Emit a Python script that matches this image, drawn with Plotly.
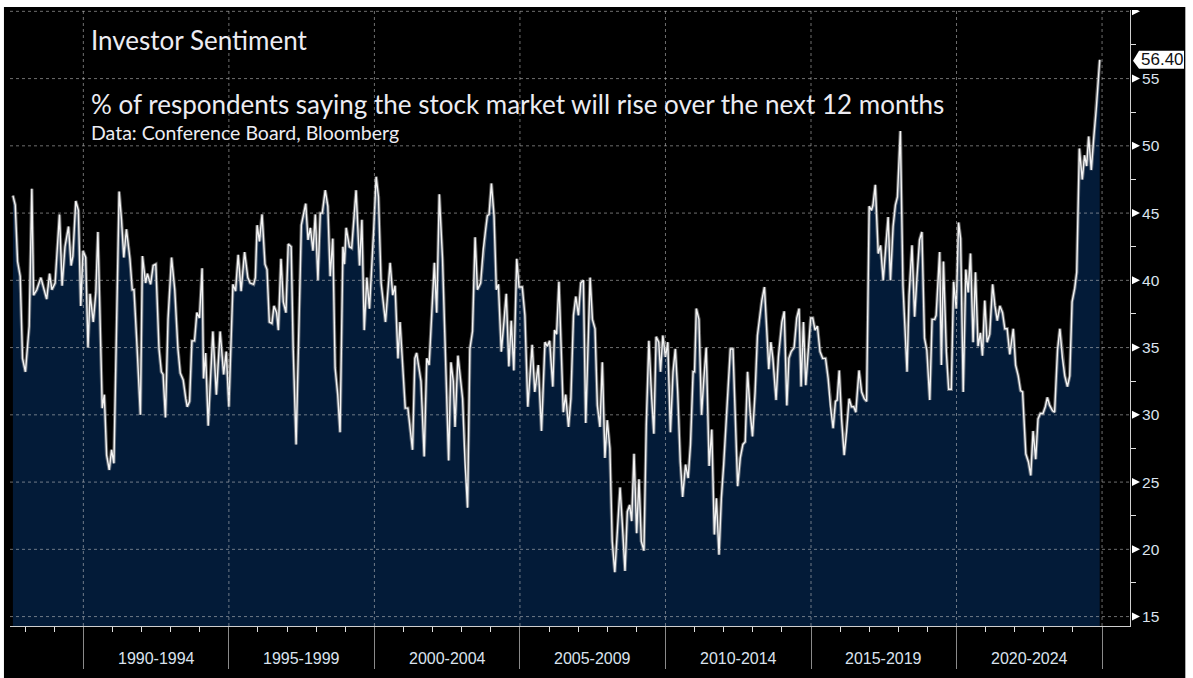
import plotly.graph_objects as go

# ---- data (decimal year, % saying stocks will rise) ----
years = [
 1987.58,1987.66,1987.74,1987.83,1987.91,1988.01,1988.14,1988.23,1988.29,1988.40,1988.54,1988.63,1988.74,1988.84,1988.92,
 1989.03,1989.09,1989.18,1989.27,1989.37,1989.49,1989.58,1989.64,1989.74,1989.83,1989.91,1989.99,
 1990.08,1990.16,1990.23,1990.34,1990.43,1990.50,1990.65,1990.72,1990.80,1990.89,1990.97,
 1991.05,1991.23,1991.31,1991.39,1991.48,1991.60,1991.68,1991.74,1991.83,1991.96,
 1992.03,1992.14,1992.20,1992.31,1992.40,1992.49,1992.60,1992.68,1992.74,1992.82,1992.91,
 1993.03,1993.14,1993.25,1993.33,1993.43,1993.52,1993.57,1993.65,1993.73,1993.82,1993.90,1993.99,
 1994.08,1994.13,1994.20,1994.29,1994.45,1994.57,1994.70,1994.82,1994.91,
 1995.00,1995.14,1995.23,1995.32,1995.42,1995.54,1995.65,1995.73,1995.85,1995.91,1995.97,
 1996.05,1996.14,1996.24,1996.31,1996.39,1996.48,1996.55,1996.64,1996.70,1996.79,1996.87,1996.96,
 1997.04,1997.14,1997.21,1997.31,1997.49,1997.64,1997.72,1997.80,1997.89,1997.97,
 1998.06,1998.14,1998.21,1998.31,1998.40,1998.48,1998.57,1998.65,1998.74,1998.82,1998.92,1998.97,
 1999.03,1999.14,1999.22,1999.37,1999.49,1999.57,1999.65,1999.74,1999.83,1999.97,
 2000.06,2000.14,2000.23,2000.38,2000.54,2000.63,2000.71,2000.81,2000.88,
 2001.06,2001.15,2001.31,2001.39,2001.45,2001.60,2001.71,2001.80,2001.88,
 2002.06,2002.14,2002.23,2002.34,2002.55,2002.63,2002.71,2002.77,2002.87,
 2003.03,2003.11,2003.20,2003.28,2003.37,2003.46,2003.54,2003.65,2003.74,2003.82,2003.88,2003.94,
 2004.02,2004.11,2004.19,2004.26,2004.36,2004.45,2004.53,2004.62,2004.70,2004.79,2004.89,2004.97,
 2005.08,2005.17,2005.27,2005.42,2005.51,2005.63,2005.74,2005.86,2005.94,
 2006.02,2006.13,2006.19,2006.26,2006.34,2006.49,2006.57,2006.67,2006.75,2006.84,2006.92,
 2007.01,2007.09,2007.18,2007.26,2007.41,2007.49,2007.58,2007.66,2007.75,2007.83,2007.92,
 2008.00,2008.09,2008.17,2008.26,2008.34,2008.44,2008.52,2008.61,2008.69,2008.77,2008.84,2008.92,
 2009.01,2009.09,2009.17,2009.26,2009.34,2009.43,2009.52,2009.60,2009.68,2009.77,2009.83,2009.91,
 2010.00,2010.08,2010.17,2010.26,2010.34,2010.42,2010.51,2010.59,2010.69,2010.78,2010.86,2010.95,
 2011.00,2011.06,2011.15,2011.24,2011.31,2011.40,2011.50,2011.59,2011.68,2011.75,2011.84,2011.92,
 2012.00,2012.11,2012.23,2012.32,2012.40,2012.48,2012.57,2012.66,2012.74,2012.82,2012.91,2012.99,
 2013.08,2013.16,2013.31,2013.40,2013.48,2013.55,2013.62,2013.69,2013.80,2013.88,
 2014.00,2014.08,2014.17,2014.24,2014.32,2014.42,2014.51,2014.59,2014.66,2014.74,2014.82,2014.91,2014.99,
 2015.06,2015.14,2015.22,2015.31,2015.40,2015.50,2015.59,2015.67,2015.76,2015.84,2015.90,2015.97,
 2016.05,2016.14,2016.22,2016.31,2016.39,2016.47,2016.54,2016.65,2016.74,2016.83,2016.91,
 2017.00,2017.08,2017.13,2017.21,2017.31,2017.39,2017.48,2017.57,2017.65,2017.73,2017.82,2017.90,2017.97,
 2018.07,2018.16,2018.30,2018.37,2018.47,2018.56,2018.64,2018.73,2018.81,2018.90,2018.98,
 2019.08,2019.16,2019.25,2019.30,2019.42,2019.48,2019.55,2019.65,2019.73,2019.82,2019.90,2019.99,
 2020.07,2020.14,2020.23,2020.32,2020.40,2020.48,2020.57,2020.65,2020.74,2020.82,2020.89,2020.97,
 2021.05,2021.14,2021.24,2021.32,2021.40,2021.49,2021.58,2021.66,2021.74,2021.83,2021.95,
 2022.03,2022.12,2022.20,2022.27,2022.38,2022.47,2022.55,2022.63,2022.72,2022.80,2022.88,2022.97,
 2023.05,2023.12,2023.20,2023.30,2023.37,2023.47,2023.55,2023.64,2023.72,2023.81,2023.89,2023.97,
 2024.06,2024.13,2024.22,2024.32,2024.40,2024.47,2024.54,2024.63,2024.71,2024.80,2024.92,
]
values = [
 46.3,45.6,41.4,40.3,34.2,33.2,36.6,46.8,38.9,39.3,40.2,39.5,38.6,40.5,39.3,
 39.8,41.6,44.9,39.6,42.5,44.0,41.1,41.8,45.9,45.2,38.1,42.2,
 41.7,35.0,39.0,36.9,39.1,43.6,30.5,31.5,27.0,25.9,27.4,
 26.4,46.6,44.5,41.7,43.8,41.6,39.3,39.3,35.7,30.0,
 41.8,39.8,40.5,39.7,41.1,41.2,34.9,33.2,33.0,29.8,37.1,
 41.7,39.3,34.9,33.1,32.6,31.2,30.6,31.0,35.5,35.5,37.6,37.2,
 40.9,32.7,34.6,29.2,36.2,31.5,36.2,33.0,34.7,
 30.6,39.7,39.2,41.9,39.2,42.1,40.2,39.8,39.7,40.2,44.1,
 42.9,44.9,41.2,40.8,36.9,36.8,38.1,37.6,36.3,41.6,38.4,37.6,
 42.7,42.5,34.9,27.8,44.1,45.7,43.0,43.9,42.2,44.9,
 40.0,45.0,45.0,46.7,45.5,40.3,43.1,33.5,31.5,28.7,42.5,41.2,
 43.9,42.5,42.4,46.7,41.1,44.5,36.3,40.2,37.9,43.5,
 47.7,46.2,39.8,36.9,41.3,38.9,39.6,34.2,36.9,
 30.5,30.5,27.4,34.2,34.6,32.5,26.9,34.2,33.7,
 41.3,37.6,46.4,41.6,26.6,33.9,32.5,29.1,34.4,
 31.2,26.6,23.1,34.9,36.2,43.2,39.3,39.8,42.3,43.8,44.8,44.9,
 47.2,44.8,39.3,39.7,34.7,36.9,39.0,33.6,37.0,33.3,41.6,39.5,
 39.5,37.4,30.6,35.2,31.7,33.7,28.8,35.4,35.1,
 35.5,32.1,36.3,36.0,39.9,30.2,31.5,29.1,31.2,37.4,38.8,
 37.4,39.8,40.0,29.4,40.2,37.1,36.4,30.7,29.1,33.9,26.8,
 29.6,27.5,20.6,18.3,21.1,24.6,21.8,18.4,22.8,23.3,22.1,27.1,
 21.2,25.2,20.6,19.9,29.2,35.5,31.5,28.6,35.8,35.4,33.2,35.9,
 34.3,35.4,28.7,33.2,34.9,31.7,26.5,23.9,26.3,25.3,27.8,33.2,
 33.2,37.9,37.1,30.0,32.4,35.0,26.2,28.9,21.1,23.8,19.6,23.8,
 26.3,30.1,34.9,34.9,30.2,24.7,26.8,27.8,28.0,33.2,30.2,28.4,
 31.7,35.9,38.5,39.5,36.3,33.4,35.4,34.2,31.1,34.3,
 36.9,37.7,30.7,34.2,34.7,35.0,37.2,37.9,32.1,36.9,32.2,34.7,37.2,
 37.2,36.3,36.6,34.7,34.2,34.2,32.7,30.6,29.0,31.0,31.1,33.3,
 29.7,27.0,28.7,31.2,30.6,30.6,30.2,33.3,31.7,31.2,31.0,
 45.5,45.2,45.6,47.1,42.0,42.6,40.0,42.5,44.7,40.0,44.0,45.6,46.2,
 51.1,39.6,33.2,38.9,42.6,37.3,40.2,43.0,43.6,35.7,34.8,
 31.1,37.1,37.1,37.4,42.1,33.7,41.4,34.7,31.9,31.9,39.9,37.9,
 44.3,43.1,31.7,40.8,39.1,42.0,35.4,40.6,35.1,36.1,34.4,38.5,
 35.4,36.0,39.7,38.1,37.0,38.1,37.6,36.4,36.4,34.5,36.4,
 33.7,32.9,31.8,31.7,27.1,26.5,25.5,28.8,26.7,29.7,30.1,30.1,
 30.6,31.3,30.7,30.3,30.2,34.8,36.4,34.2,32.9,32.1,32.9,38.4,
 39.4,40.6,49.8,47.5,49.3,48.5,50.7,48.2,50.5,52.7,56.4,
]

period_starts = [1990, 1995, 2000, 2005, 2010, 2015, 2020]
period_labels = ["1990-1994", "1995-1999", "2000-2004", "2005-2009",
                 "2010-2014", "2015-2019", "2020-2024"]
y_ticks = [15, 20, 25, 30, 35, 40, 45, 50, 55]
y_grid = [15, 20, 25, 30, 35, 40, 45, 50, 55, 60]
x_grid = [1990, 1995, 2000, 2005, 2010, 2015, 2020, 2025]
last_value = values[-1]

X_RANGE = [1987.48, 2025.96]
Y_RANGE = [14.3, 60.1]

TXT = "#ececf2"
TICK_TXT = "#dbe3ee"
GRID = "rgba(200,200,200,0.55)"
FILL = "#031b38"

fig = go.Figure()
fig.add_trace(go.Scatter(x=years, y=values, mode="lines", fill="tozeroy",
                         fillcolor=FILL, line=dict(color="rgba(0,0,0,0)", width=0),
                         hoverinfo="skip", showlegend=False))
fig.add_trace(go.Scatter(x=years, y=values, mode="lines",
                         line=dict(color="rgba(160,160,160,0.6)", width=3.4),
                         hoverinfo="skip", showlegend=False))
fig.add_trace(go.Scatter(x=years, y=values, mode="lines",
                         line=dict(color="#f4f4f4", width=1.4),
                         showlegend=False))

shapes = []
for gx in x_grid:
    shapes.append(dict(type="line", xref="x", yref="paper", x0=gx, x1=gx, y0=0, y1=1,
                       line=dict(color=GRID, width=1, dash="dot"), layer="above"))
for gy in y_grid:
    shapes.append(dict(type="line", xref="paper", yref="y", x0=0, x1=1, y0=gy, y1=gy,
                       line=dict(color=GRID, width=1, dash="dot"), layer="above"))
# triangle tick markers on the right axis
for gy in y_grid:
    shapes.append(dict(type="path", xref="paper", yref="y", xsizemode="pixel", ysizemode="pixel",
                       xanchor=1, yanchor=gy, path="M 2,-4 L 10,0 L 2,4 Z",
                       fillcolor="#ffffff", line=dict(width=0), layer="above"))
# last-value callout box
shapes.append(dict(type="path", xref="paper", yref="y", xsizemode="pixel", ysizemode="pixel",
                   xanchor=1, yanchor=last_value, path="M 3,-1 L 9,-9 L 54,-9 L 54,9 L 9,9 Z",
                   fillcolor="#ffffff", line=dict(width=0), layer="above"))
# white page edges of the screenshot
shapes.append(dict(type="rect", xref="paper", yref="paper", x0=-0.03, x1=1.08, y0=1.0049, y1=1.03,
                   fillcolor="#ffffff", line=dict(width=0), layer="above"))
shapes.append(dict(type="rect", xref="paper", yref="paper", x0=1.0494, x1=1.08, y0=-0.1, y1=1.03,
                   fillcolor="#ffffff", line=dict(width=0), layer="above"))
shapes.append(dict(type="rect", xref="paper", yref="paper", x0=-0.03, x1=-0.0054, y0=-0.1, y1=1.03,
                   fillcolor="#ffffff", line=dict(width=0), layer="above"))

annotations = [
    dict(text="Investor Sentiment", xref="paper", yref="paper", x=0.0705, y=0.951,
         xanchor="left", yanchor="middle", showarrow=False,
         font=dict(family="Lato", size=26, color=TXT)),
    dict(text="% of respondents saying the stock market will rise over the next 12 months",
         xref="paper", yref="paper", x=0.0705, y=0.848, xanchor="left", yanchor="middle",
         showarrow=False, font=dict(family="Lato", size=26, color=TXT)),
    dict(text="Data: Conference Board, Bloomberg", xref="paper", yref="paper", x=0.0705, y=0.801,
         xanchor="left", yanchor="middle", showarrow=False,
         font=dict(family="Lato", size=19.5, color=TXT)),
    dict(text=f"{last_value:.2f}", xref="paper", yref="y", x=1, xshift=32, y=last_value,
         xanchor="center", yanchor="middle", showarrow=False,
         font=dict(family="Liberation Sans", size=17, color="#111111")),
]
for start, lab in zip(period_starts, period_labels):
    annotations.append(dict(text=lab, xref="x", yref="paper", x=start + 2.5, y=0, yshift=-32,
                            xanchor="center", yanchor="middle", showarrow=False,
                            font=dict(family="Liberation Sans", size=16, color=TICK_TXT)))

fig.update_layout(
    width=1193, height=678,
    margin=dict(l=10, r=63, t=10, b=50),
    paper_bgcolor="#000000", plot_bgcolor="#000000",
    shapes=shapes, annotations=annotations,
    showlegend=False, hovermode=False,
    xaxis=dict(range=X_RANGE, showgrid=False, zeroline=False,
               showline=True, linecolor="#cfcfcf", linewidth=1,
               tickmode="linear", tick0=1990, dtick=5, ticks="outside", ticklen=42,
               tickcolor="#8a8a8a", tickwidth=1, showticklabels=False,
               minor=dict(tickmode="linear", tick0=1988, dtick=1, ticks="outside",
                          ticklen=5, tickcolor="#e0e0e0", tickwidth=1, showgrid=False)),
    yaxis=dict(range=Y_RANGE, side="right", showgrid=False, zeroline=False,
               showline=True, linecolor="#cfcfcf", linewidth=1,
               tickmode="array", tickvals=y_ticks, ticks="outside", ticklen=8,
               tickcolor="rgba(0,0,0,0)",
               tickfont=dict(family="Liberation Sans", size=15.5, color=TICK_TXT),
               minor=dict(tickmode="linear", tick0=2.5, dtick=5, ticks="outside",
                          ticklen=5, tickcolor="#e0e0e0", tickwidth=1, showgrid=False)),
)

fig.write_html("out.html", config={"displayModeBar": False},
               post_script="document.body.style.margin='0';")
